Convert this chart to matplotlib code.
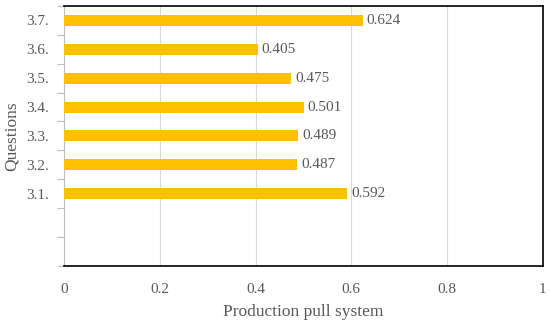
import numpy as np
import matplotlib.pyplot as plt

plt.rcParams['font.family'] = ['Liberation Serif', 'DejaVu Serif']

questions = ['', '', '3.1.', '3.2.', '3.3.', '3.4.', '3.5.', '3.6.', '3.7.']
values = [np.nan, np.nan, 0.592, 0.487, 0.489, 0.501, 0.475, 0.405, 0.624]

grey = '#595959'
fig = plt.figure(figsize=(5.5, 3.27), dpi=100)
ax = fig.add_axes([0.1164, 0.1865, 0.8706, 0.7955])

y = np.arange(len(questions))
ax.barh(y, values, height=0.38, color='#FFC000', zorder=3)
for yi, v in zip(y, values):
    if not np.isnan(v):
        ax.text(v + 0.008, yi, '%.3f' % v, va='center', ha='left',
                fontsize=11, color=grey)

ax.set_xlim(0, 1)
ax.set_ylim(-0.5, len(questions) - 0.5)
ax.set_xticks(np.arange(0, 1.01, 0.2))
ax.set_xticklabels(['0', '0.2', '0.4', '0.6', '0.8', '1'])
ax.set_yticks(y)
ax.set_yticklabels(questions)
ax.set_yticks(np.arange(-0.5, len(questions), 1), minor=True)
ax.tick_params(axis='y', which='major', length=0, pad=11, labelsize=11, labelcolor=grey)
ax.tick_params(axis='y', which='minor', length=5, color='#BFBFBF', width=0.8)
ax.tick_params(axis='x', length=0, pad=12, labelsize=11, labelcolor=grey)
ax.grid(axis='x', color='#D9D9D9', linewidth=0.8, zorder=0)

for s in ['top', 'right', 'bottom']:
    ax.spines[s].set_color('black')
    ax.spines[s].set_linewidth(1.2)
ax.spines['left'].set_color('#BFBFBF')
ax.spines['left'].set_linewidth(0.8)

ax.set_xlabel('Production pull system', fontsize=12.5, color=grey, labelpad=6)
ax.set_ylabel('Questions', fontsize=12.5, color=grey)
ax.yaxis.set_label_coords(-0.093, 0.5)

fig.savefig('out.png', dpi=100)
